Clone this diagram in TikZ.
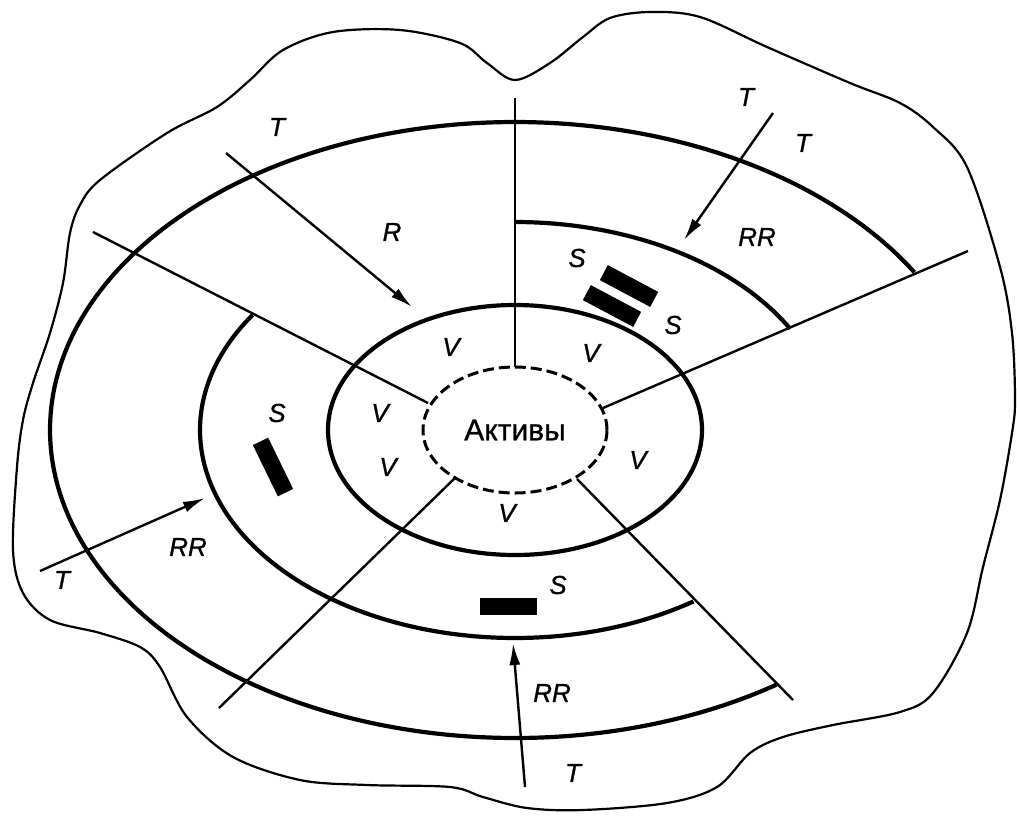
\documentclass[tikz,border=0pt]{standalone}
\usepackage{fontspec}
\setmainfont{Liberation Sans}
\newfontfamily\lblfont{Liberation Sans}[FakeBold=0.9]
\usetikzlibrary{arrows.meta}
\begin{document}
\begin{tikzpicture}[x=1pt,y=-1pt,
  thickline/.style={line width=4.2pt},
  thinline/.style={line width=2.4pt},
  blobline/.style={line width=2.2pt},
  arr/.style={line width=2.4pt,-{Latex[length=22pt,width=11pt]}},
  lbl/.style={font=\lblfont\fontsize{26}{26}\selectfont\itshape,inner sep=0pt},
  bar/.style={fill=black,minimum width=57pt,minimum height=17pt,inner sep=0pt}]
\useasboundingbox (0,0) rectangle (1017,825);
% outer blob
\draw[blobline] plot[smooth cycle, tension=0.55] coordinates {
 (23,420) (33,383) (50,333) (63,283) (70,233) (80,205) (100,180) (167,133)
 (217,107) (250,80) (283,50) (333,32) (400,30) (460,43) (487,63) (515,80)
 (550,63) (583,37) (610,18) (650,12) (700,17) (767,47) (850,83) (900,103)
 (933,127) (967,167) (1000,267) (1012,333) (1015,400) (1012,433) (1000,500)
 (983,567) (967,633) (933,693) (900,712) (833,725) (783,737) (750,753)
 (717,787) (667,803) (583,810) (527,808) (483,797) (450,787) (367,785)
 (300,780) (233,757) (187,717) (160,667) (140,647) (100,633) (50,620)
 (23,593) (13,550) (17,467)};
% outer ellipse arc
\draw[thickline,domain=30.8:304.2,samples=150,smooth,variable=\t]
  plot ({515+465*cos(\t)},{430-308*sin(\t)});
% middle ring arcs
\draw[thickline,domain=29.1:90,samples=60,smooth,variable=\t]
  plot ({515+315*cos(\t)},{430-208*sin(\t)});
\draw[thickline,domain=146.4:304.5,samples=120,smooth,variable=\t]
  plot ({515+315*cos(\t)},{430-208*sin(\t)});
% inner ellipse
\draw[thickline] (515,430) ellipse[x radius=187pt,y radius=125pt];
% assets
\draw[line width=3pt,dash pattern=on 11pt off 5pt] (515,430) ellipse[x radius=92pt,y radius=63pt];
\node[font=\lblfont\fontsize{30}{30}\selectfont,inner sep=0pt] (assets) at (515,430) {Активы};
% radial lines
\coordinate (r1o) at (515,98);  \coordinate (r1i) at (515,367);
\coordinate (r2o) at (93,232);  \coordinate (r2i) at (428,403);
\coordinate (r3o) at (968,251); \coordinate (r3i) at (603,408);
\coordinate (r4o) at (219,708); \coordinate (r4i) at (456,477);
\coordinate (r5o) at (793,700); \coordinate (r5i) at (577,479);
\draw[thinline] (r1o) -- (r1i);
\draw[thinline] (r2o) -- (r2i);
\draw[thinline] (r3o) -- (r3i);
\draw[thinline] (r4o) -- (r4i);
\draw[thinline] (r5o) -- (r5i);
% arrows
\coordinate (a1s) at (226,153); \coordinate (a1e) at (412,307);
\coordinate (a2s) at (773,113); \coordinate (a2e) at (684,240);
\coordinate (a3s) at (40,571);  \coordinate (a3e) at (205,498);
\coordinate (a4s) at (525,787); \coordinate (a4e) at (513,643);
\draw[arr] (a1s) -- (a1e);
\draw[arr] (a2s) -- (a2e);
\draw[arr] (a3s) -- (a3e);
\draw[arr] (a4s) -- (a4e);
% bars
\node[bar,rotate=-28] (b1) at (629,286) {};
\node[bar,rotate=-28] (b2) at (612,306) {};
\node[bar,rotate=-64] (b3) at (273,467) {};
\node[bar] (b4) at (508,606) {};
% labels
\node[lbl] (t1) at (277,127) {T};
\node[lbl] (r1) at (392,232) {R};
\node[lbl] (t2) at (746,97) {T};
\node[lbl] (t3) at (803,143) {T};
\node[lbl] (rr1) at (757,237) {RR};
\node[lbl] (s1) at (577,258) {S};
\node[lbl] (s2) at (673,325) {S};
\node[lbl] (v1) at (451,347) {V};
\node[lbl] (v2) at (591,353) {V};
\node[lbl] (v3) at (380,413) {V};
\node[lbl] (v4) at (388,467) {V};
\node[lbl] (v5) at (638,460) {V};
\node[lbl] (v6) at (507,513) {V};
\node[lbl] (s3) at (277,413) {S};
\node[lbl] (rr2) at (188,547) {RR};
\node[lbl] (t4) at (62,580) {T};
\node[lbl] (s4) at (558,585) {S};
\node[lbl] (rr3) at (552,693) {RR};
\node[lbl] (t5) at (573,773) {T};
\end{tikzpicture}
\end{document}
